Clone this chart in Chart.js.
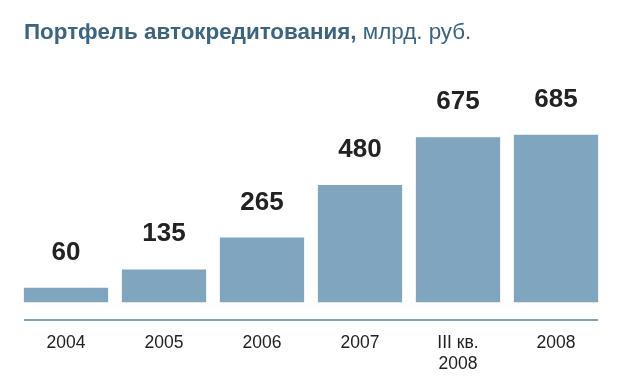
<!DOCTYPE html>
<html>
<head>
<meta charset="utf-8">
<script src="https://cdn.jsdelivr.net/npm/chart.js@4"></script>
<style>
  html, body { margin: 0; padding: 0; background: #fff; }
  #wrap { position: relative; width: 623px; height: 389px; }
  #title {
    position: absolute; left: 24px; top: 21px;
    font: 22.4px "Liberation Sans", Arial, sans-serif; line-height: 22px;
    color: #3b6480; white-space: nowrap;
  }
  #title b { font-weight: bold; }
  canvas { position: absolute; left: 0; top: 0; }
</style>
</head>
<body>
<div id="wrap">
  <canvas id="chart" width="623" height="389"></canvas>
  <div id="title"><b>Портфель автокредитования,</b> млрд. руб.</div>
</div>
<script>
// categories and values (billion rubles)
const categories = ["2004", "2005", "2006", "2007", ["III кв.", "2008"], "2008"];
const portfolio = [60, 135, 265, 480, 675, 685];

const BAR_COLOR = "#7fa6be";
const TEXT_COLOR = "#222222";

// value labels over the bars + baseline under them
const barExtras = {
  id: "barExtras",
  afterDatasetsDraw(chart) {
    const ctx = chart.ctx;
    const bars = chart.getDatasetMeta(0).data;
    ctx.save();
    ctx.fillStyle = TEXT_COLOR;
    ctx.font = "bold 26px 'Liberation Sans', Arial, sans-serif";
    ctx.textAlign = "center";
    ctx.textBaseline = "alphabetic";
    bars.forEach((bar, i) => {
      ctx.fillText(portfolio[i], bar.x, bar.y - 28);
    });

    // axis line, from first bar edge to last bar edge
    const first = bars[0], last = bars[bars.length - 1];
    const y = chart.chartArea.bottom + 17.5;
    ctx.strokeStyle = "#7fa4ba";
    ctx.lineWidth = 2;
    ctx.beginPath();
    ctx.moveTo(first.x - first.width / 2, y);
    ctx.lineTo(last.x + last.width / 2, y);
    ctx.stroke();
    ctx.restore();
  }
};

new Chart(document.getElementById("chart"), {
  type: "bar",
  data: {
    labels: categories,
    datasets: [{
      data: portfolio,
      backgroundColor: BAR_COLOR,
      borderWidth: 0,
      barPercentage: 0.86,
      categoryPercentage: 1
    }]
  },
  options: {
    responsive: false,
    animation: false,
    layout: { padding: { left: 17, right: 18, top: 60, bottom: 16 } },
    plugins: {
      legend: { display: false },
      tooltip: { enabled: false }
    },
    scales: {
      x: {
        grid: { display: false, drawTicks: false },
        border: { display: false },
        afterFit(scale) { scale.height = 70.5; },
        ticks: {
          color: TEXT_COLOR,
          padding: 30,
          maxRotation: 0,
          font: { family: "'Liberation Sans', Arial, sans-serif", size: 17.5 }
        }
      },
      y: {
        display: false,
        min: 0,
        max: 990
      }
    }
  },
  plugins: [barExtras]
});
</script>
</body>
</html>
